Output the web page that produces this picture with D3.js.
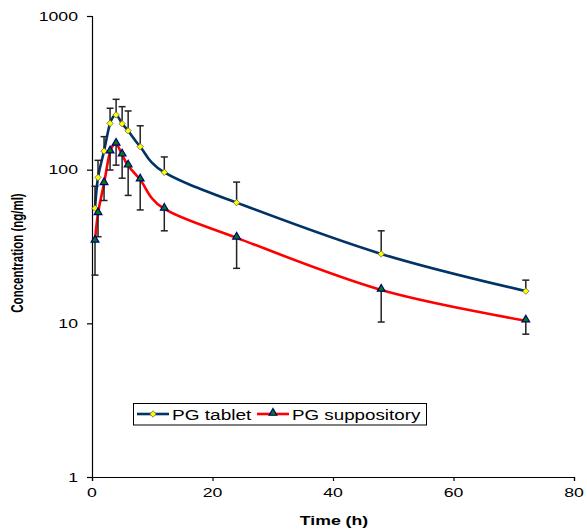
<!DOCTYPE html>
<html lang='en'>
  <head>
    <style type='text/css'>
      body {margin: 0; background-color: #fff;}
      #chart {width: 587px; height: 531px;}
      text {font-family: "Liberation Sans", Arial, sans-serif; fill: #000;}
    </style>
  </head>
  <body>
    <div id='chart'>
      <svg width='587' height='531'></svg>
    </div>

    <script src='https://d3js.org/d3.v7.min.js'></script>
    <script type='text/javascript'>
        // sampling times (h)
        var times = [0.5, 1, 2, 3, 4, 5, 6, 8, 12, 24, 48, 72];

        // PG tablet mean and upper error bar end (ng/ml)
        var tablet      = [56, 89, 132, 200, 227, 199, 179, 141, 96, 61, 28.3, 16.2];
        var tabletUpper = [78, 115, 164, 251, 287, 257, 241, 193, 121, 83, 40, 19.1];

        // PG suppository mean and lower error bar end (ng/ml)
        var supp      = [34.4, 52, 81.5, 131, 147, 125, 106, 86, 55.5, 36, 16.5, 10.4];
        var suppLower = [20.6, 36.6, 63, 99.5, 107, 88, 68, 54.7, 40, 22.8, 10.2, 8.5];

        var xTicks = [0, 20, 40, 60, 80];
        var yTicks = [1, 10, 100, 1000];

        // text in the reference is stretched sideways
        var stretch = 1.36;

        var svg = d3.select("#chart svg");

        var x = d3.scaleLinear().domain([0, 80]).range([92, 574]);
        var y = d3.scaleLog().domain([1, 1000]).range([477, 16]);

        function wideText(sel, px, py, anchor) {
            // place text at (px,py) then widen it horizontally
            return sel.attr("transform", "translate(" + px + "," + py + ") scale(" + stretch + ",1)")
                .style("text-anchor", anchor);
        }

        // axes
        svg.append("g")
            .attr("transform", "translate(0," + y(1) + ")")
            .call(d3.axisBottom(x).tickValues(xTicks).tickSize(4).tickFormat(""));
        svg.append("g")
            .attr("transform", "translate(" + x(0) + ",0)")
            .call(d3.axisLeft(y).tickValues(yTicks).tickSize(5).tickFormat(""));
        svg.selectAll(".domain").attr("stroke", "#000").attr("stroke-width", 1.2);
        svg.selectAll(".tick line").attr("stroke", "#000").attr("stroke-width", 1.2);

        xTicks.forEach(function(t) {
            wideText(svg.append("text"), x(t), 497, "middle")
                .style("font-size", "13px").text(t);
        });
        yTicks.forEach(function(t) {
            wideText(svg.append("text"), 78, y(t) + 4.5, "end")
                .style("font-size", "13px").text(t);
        });

        wideText(svg.append("text"), 334, 525, "middle")
            .style("font-size", "13px").style("font-weight", "bold").text("Time (h)");

        svg.append("text")
            .attr("transform", "translate(23,253) rotate(-90) scale(1," + stretch + ")")
            .style("text-anchor", "middle")
            .style("font-size", "11.5px").style("font-weight", "bold")
            .text("Concentration (ng/ml)");

        // lines
        var line = d3.line()
            .x(function(d) { return x(d[0]); })
            .y(function(d) { return y(d[1]); })
            .curve(d3.curveCardinal.tension(0));

        svg.append("path")
            .datum(d3.zip(times, tablet))
            .attr("d", line)
            .attr("fill", "none").attr("stroke", "#003366").attr("stroke-width", 2.6);
        svg.append("path")
            .datum(d3.zip(times, supp))
            .attr("d", line)
            .attr("fill", "none").attr("stroke", "#ff0000").attr("stroke-width", 2.6);

        // error bars
        function errorBars(mean, end) {
            var g = svg.append("g").selectAll("g").data(d3.zip(times, mean, end))
              .enter().append("g");
            g.append("line")
                .attr("x1", function(d) { return x(d[0]); })
                .attr("x2", function(d) { return x(d[0]); })
                .attr("y1", function(d) { return y(d[1]); })
                .attr("y2", function(d) { return y(d[2]); });
            g.append("line")
                .attr("x1", function(d) { return x(d[0]) - 3.5; })
                .attr("x2", function(d) { return x(d[0]) + 3.5; })
                .attr("y1", function(d) { return y(d[2]); })
                .attr("y2", function(d) { return y(d[2]); });
            g.selectAll("line").attr("stroke", "#222").attr("stroke-width", 1.5);
        }
        errorBars(tablet, tabletUpper);
        errorBars(supp, suppLower);

        // markers
        var diamond = d3.symbol().type(d3.symbolDiamond2).size(26);
        var triangle = d3.symbol().type(d3.symbolTriangle).size(26);

        svg.append("g").selectAll("path").data(d3.zip(times, tablet))
          .enter().append("path")
            .attr("d", diamond)
            .attr("transform", function(d) { return "translate(" + x(d[0]) + "," + y(d[1]) + ")"; })
            .attr("fill", "#ffff00").attr("stroke", "#6a6a3a").attr("stroke-width", 0.8);

        svg.append("g").selectAll("path").data(d3.zip(times, supp))
          .enter().append("path")
            .attr("d", triangle)
            .attr("transform", function(d) { return "translate(" + x(d[0]) + "," + (y(d[1]) - 1) + ")"; })
            .attr("fill", "#008000").attr("stroke", "#000080").attr("stroke-width", 1.2);

        // legend
        var legend = svg.append("g");
        legend.append("rect")
            .attr("x", 133.5).attr("y", 403.5).attr("width", 293).attr("height", 21.5)
            .attr("fill", "#fff").attr("stroke", "#000").attr("stroke-width", 1);

        legend.append("line").attr("x1", 137).attr("x2", 169).attr("y1", 414).attr("y2", 414)
            .attr("stroke", "#003366").attr("stroke-width", 2.6);
        legend.append("path").attr("d", diamond).attr("transform", "translate(153,414)")
            .attr("fill", "#ffff00").attr("stroke", "#6a6a3a").attr("stroke-width", 0.8);
        wideText(legend.append("text"), 172, 419.5, "start")
            .style("font-size", "14px").text("PG tablet");

        legend.append("line").attr("x1", 257).attr("x2", 289).attr("y1", 414).attr("y2", 414)
            .attr("stroke", "#ff0000").attr("stroke-width", 2.6);
        legend.append("path").attr("d", triangle).attr("transform", "translate(273,413)")
            .attr("fill", "#008000").attr("stroke", "#000080").attr("stroke-width", 1.2);
        wideText(legend.append("text"), 292, 419.5, "start")
            .style("font-size", "13.8px").text("PG suppository");
    </script>
  </body>
</html>
